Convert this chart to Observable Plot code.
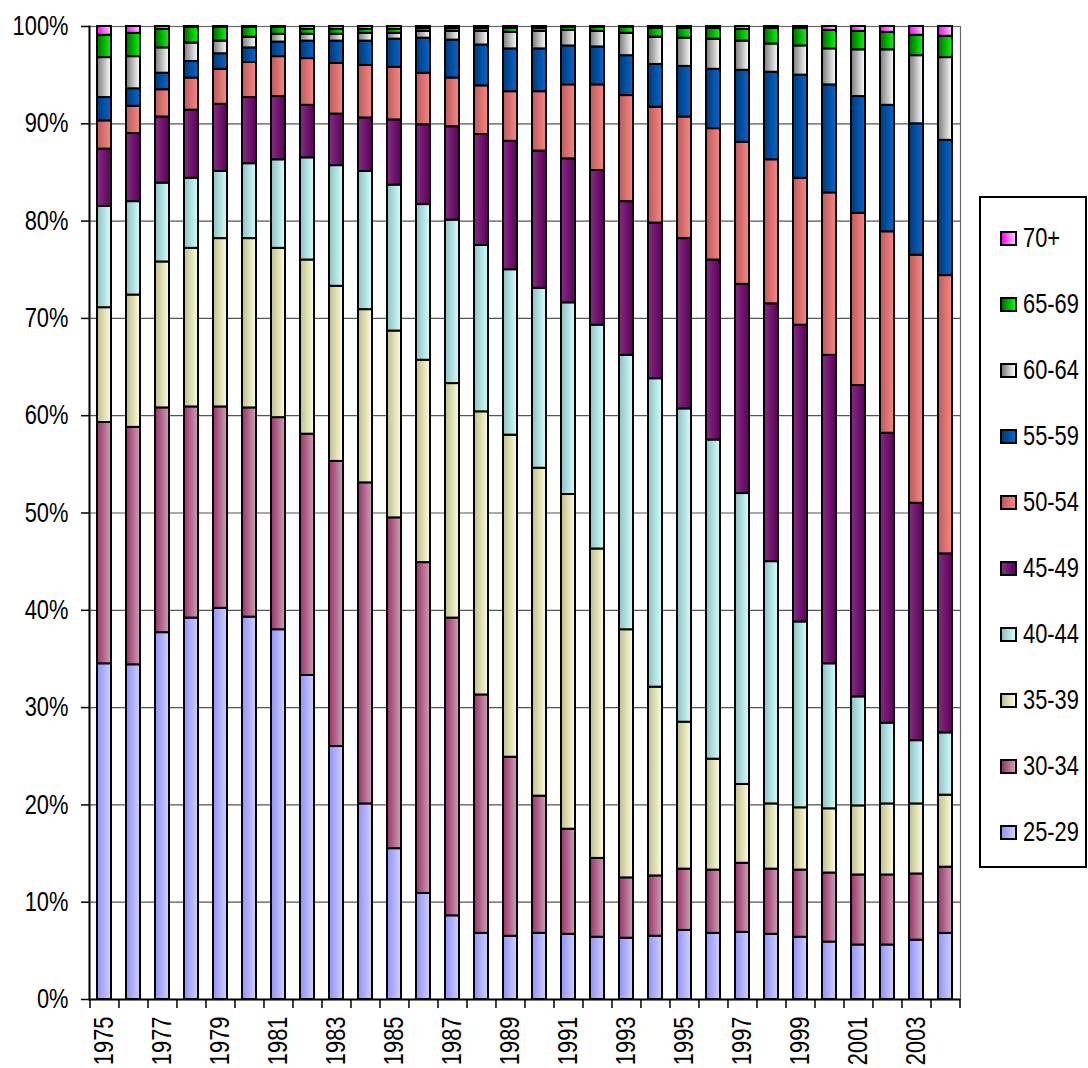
<!DOCTYPE html>
<html><head><meta charset="utf-8">
<script src="https://cdn.jsdelivr.net/npm/d3@7"></script>
<script src="https://cdn.jsdelivr.net/npm/@observablehq/plot@0.6"></script>
<style>
body{margin:0;background:#fff;}
#wrap{position:relative;width:1088px;height:1068px;overflow:hidden;font-family:"Liberation Sans",Arial,sans-serif;color:#000;}
#legend{position:absolute;left:979px;top:196px;width:108px;height:672px;box-sizing:border-box;border:2px solid #000;background:#fff;padding-top:7px;}
.item{height:66px;display:flex;align-items:center;padding-left:19px;font-size:27px;line-height:1;white-space:nowrap;}
.sw{width:13px;height:11px;border:2px solid #000;margin-right:6px;flex:none;}
.lab{display:inline-block;transform:scaleX(0.81);transform-origin:left center;}
</style></head>
<body><div id="wrap"><div id="chart"></div><div id="legend"></div></div>
<script>
const years = [1975,1976,1977,1978,1979,1980,1981,1982,1983,1984,1985,1986,1987,1988,1989,1990,1991,1992,1993,1994,1995,1996,1997,1998,1999,2000,2001,2002,2003,2004];
const labelYears = [1975,1977,1979,1981,1983,1985,1987,1989,1991,1993,1995,1997,1999,2001,2003];
const yTicks = [0,0.1,0.2,0.3,0.4,0.5,0.6,0.7,0.8,0.9,1];
const ages = ["25-29","30-34","35-39","40-44","45-49","50-54","55-59","60-64","65-69","70+"];

const a25_29 = [34.5,34.4,37.7,39.2,40.2,39.3,38.0,33.3,26.0,20.1,15.5,10.9,8.6,6.8,6.5,6.8,6.7,6.4,6.3,6.5,7.1,6.8,6.9,6.7,6.4,5.9,5.6,5.6,6.1,6.8];
const a30_34 = [24.8,24.4,23.1,21.7,20.7,21.5,21.8,24.8,29.3,33.0,34.0,34.0,30.6,24.5,18.4,14.1,10.8,8.1,6.2,6.2,6.3,6.5,7.1,6.7,6.9,7.1,7.2,7.2,6.8,6.8];
const a35_39 = [11.8,13.6,15.0,16.3,17.3,17.4,17.4,17.9,18.0,17.8,19.2,20.8,24.1,29.1,33.1,33.7,34.4,31.8,25.5,19.4,15.1,11.4,8.1,6.7,6.4,6.6,7.1,7.3,7.2,7.4];
const a40_44 = [10.4,9.6,8.1,7.2,6.9,7.7,9.1,10.5,12.4,14.2,15.0,16.0,16.8,17.1,17.0,18.5,19.7,23.0,28.2,31.7,32.2,32.8,29.9,24.9,19.1,14.9,11.2,8.3,6.5,6.4];
const a45_49 = [5.9,7.0,6.8,7.0,6.9,6.8,6.5,5.4,5.3,5.5,6.7,8.2,9.6,11.4,13.2,14.1,14.8,15.9,15.8,16.0,17.5,18.5,21.5,26.5,30.5,31.7,32.0,29.8,24.4,18.4];
const a50_54 = [2.9,2.8,2.8,3.3,3.6,3.6,4.1,4.8,5.2,5.4,5.4,5.3,5.0,5.0,5.1,6.1,7.6,8.8,10.9,11.9,12.5,13.5,14.6,14.8,15.1,16.7,17.7,20.7,25.5,28.6];
const a55_59 = [2.4,1.8,1.7,1.7,1.6,1.5,1.5,1.8,2.3,2.5,2.9,3.6,3.9,4.2,4.4,4.4,4.0,3.9,4.1,4.4,5.2,6.1,7.4,9.0,10.6,11.1,12.0,13.0,13.5,13.9];
const a60_64 = [4.1,3.3,2.6,1.9,1.3,1.1,0.8,0.7,0.7,0.8,0.6,0.7,0.9,1.4,1.7,1.8,1.6,1.6,2.3,2.8,2.9,3.1,3.0,2.9,3.0,3.7,4.8,5.7,7.0,8.5];
const a65_69 = [2.3,2.4,1.9,1.6,1.4,1.0,0.7,0.5,0.5,0.4,0.4,0.3,0.3,0.3,0.4,0.3,0.3,0.4,0.6,0.9,1.0,1.1,1.2,1.6,1.8,1.9,1.9,1.8,2.1,2.2];
const a70 = [0.9,0.7,0.3,0.1,0.1,0.1,0.1,0.3,0.3,0.3,0.3,0.2,0.2,0.2,0.2,0.2,0.1,0.1,0.1,0.2,0.2,0.2,0.3,0.2,0.2,0.4,0.5,0.6,0.9,1.0];

const series = [a25_29,a30_34,a35_39,a40_44,a45_49,a50_54,a55_59,a60_64,a65_69,a70];
// gradient stops (left -> right) for each age group
const gradLeft  = ["#9090ff","#993366","#bdbd95","#8fc0c0","#842c82","#b85c5c","#003a78","#7a7a7a","#006a00","#ff00ff"];
const gradRight = ["#d0d0ff","#cfa0b8","#ffffd0","#d0ffff","#5e005c","#ff8484","#0068d0","#ffffff","#00ff00","#ffd0ff"];

const rows = [];
ages.forEach((age, i) => years.forEach((year, j) => rows.push({year, age, value: series[i][j]})));

const defs = () => {
  const d = d3.create("svg:defs");
  ages.forEach((a, i) => {
    const g = d.append("linearGradient").attr("id", "grad" + i).attr("x1", 0).attr("y1", 0).attr("x2", 1).attr("y2", 0);
    g.append("stop").attr("offset", "0%").attr("stop-color", gradLeft[i]);
    g.append("stop").attr("offset", "100%").attr("stop-color", gradRight[i]);
  });
  return d.node();
};

const W = 1088, H = 1068, mL = 89, mR = 128;
const step = (W - mL - mR) / years.length;
const font = '"Liberation Sans",Arial,sans-serif';

const chart = Plot.plot({
  width: W, height: H,
  marginTop: 26, marginBottom: 69, marginLeft: mL, marginRight: mR,
  style: {fontFamily: font, fontSize: "27px", color: "#000", background: "#fff"},
  x: {type: "band", domain: years, paddingInner: 0.52, paddingOuter: 0.26, axis: null},
  y: {domain: [0, 1], axis: null},
  color: {type: "ordinal", domain: ages, range: ages.map((a, i) => `url(#grad${i})`)},
  marks: [
    defs,
    Plot.gridY(yTicks, {stroke: "#555", strokeOpacity: 1, strokeWidth: 1.2}),
    Plot.frame({stroke: "#666", strokeWidth: 1.2}),
    Plot.barY(rows, Plot.stackY({x: "year", y: "value", fill: "age", order: ages, offset: "normalize", stroke: "#000", strokeWidth: 2})),
    Plot.frame({anchor: "left", stroke: "#000", strokeWidth: 2}),
    Plot.ruleY([0], {stroke: "#000", strokeWidth: 2}),
    Plot.axisY({ticks: yTicks, tickFormat: d3.format(".0%"), tickSize: 8, tickPadding: 13, fontSize: 27, strokeWidth: 1.5, stroke: "#000", label: null}),
    Plot.axisX({ticks: years, tickSize: 9, dx: -step / 2, fill: "none", stroke: "#000", strokeWidth: 1.5, label: null}),
    Plot.axisX({ticks: [years[years.length - 1]], tickSize: 9, dx: step / 2, fill: "none", stroke: "#000", strokeWidth: 1.5, label: null}),
    Plot.axisX({ticks: labelYears, tickFormat: d => String(d), tickSize: 0, tickPadding: 17, tickRotate: -90, fontSize: 27, label: null})
  ]
});
document.getElementById("chart").appendChild(chart);

// condensed lettering, as in the reference
chart.querySelectorAll("text").forEach(t => {
  const L = t.getComputedTextLength();
  if (L > 0) {
    t.setAttribute("textLength", (L * 0.81).toFixed(1));
    t.setAttribute("lengthAdjust", "spacingAndGlyphs");
  }
});

const legend = d3.select("#legend");
ages.slice().reverse().forEach(a => {
  const i = ages.indexOf(a);
  const it = legend.append("div").attr("class", "item");
  it.append("div").attr("class", "sw").style("background", `linear-gradient(to right, ${gradLeft[i]}, ${gradRight[i]})`);
  it.append("span").attr("class", "lab").text(a);
});
</script>
</body></html>
